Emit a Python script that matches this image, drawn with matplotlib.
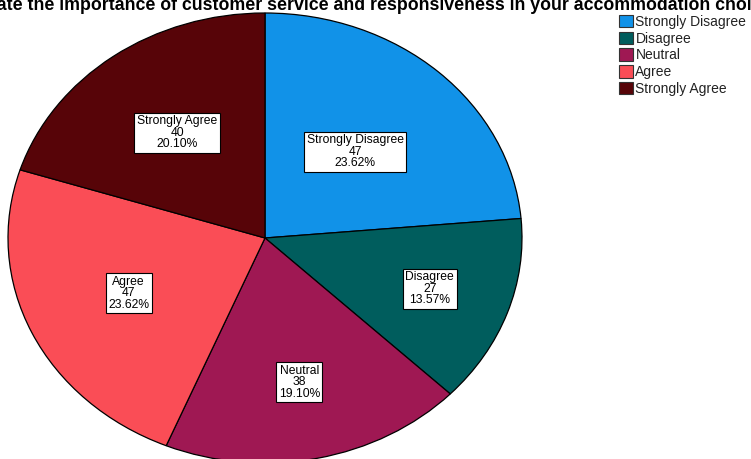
import numpy as np
import matplotlib.pyplot as plt
from matplotlib.patches import Patch

categories = ["Strongly Disagree", "Disagree", "Neutral", "Agree", "Strongly Agree"]
counts = [47, 27, 38, 47, 40]
percents = [23.62, 13.57, 19.10, 23.62, 20.10]
colors = ["#1192e8", "#005d5d", "#9f1853", "#fa4d56", "#570408"]
title = "Rate the importance of customer service and responsiveness in your accommodation choice"

# how far out along each wedge's middle the value box sits (fraction of radius)
label_dist = [0.52, 0.68, 0.655, 0.585, 0.58]

plt.rcParams['font.family'] = ['Liberation Sans', 'DejaVu Sans']

W, H = 751, 459
fig = plt.figure(figsize=(W / 100, H / 100), dpi=100)

# pie box in pixels: left 8, right 522, top 13, bottom 463 (slightly below the figure)
ax = fig.add_axes([8 / W, (H - 463) / H, 514 / W, 450 / H])

labels = [f"{c}\n{n}\n{p:.2f}%" for c, n, p in zip(categories, counts, percents)]
wedges, texts = ax.pie(counts, colors=colors, startangle=90, counterclock=False,
                       labels=labels, labeldistance=0.6,
                       wedgeprops=dict(edgecolor="black", linewidth=0.9),
                       textprops=dict(fontsize=8.7, ha="center", va="center",
                                      linespacing=0.95, multialignment="center"))
for w, t, d in zip(wedges, texts, label_dist):
    mid = np.deg2rad((w.theta1 + w.theta2) / 2)
    t.set_position((d * np.cos(mid), d * np.sin(mid)))
    t.set_ha("center")
    t.set_bbox(dict(boxstyle="square,pad=0.2", facecolor="white",
                    edgecolor="black", linewidth=0.8))

ax.set_aspect("auto")
ax.set_xlim(-1, 1)
ax.set_ylim(-1, 1)
ax.axis("off")

fig.text(0.503, 1 - 10 / H, title, ha="center", va="baseline",
         fontsize=12.8, fontweight="bold")

handles = [Patch(facecolor=c, edgecolor="#333333", linewidth=0.8) for c in colors]
fig.legend(handles, categories, loc="upper left", bbox_to_anchor=(616 / W, 1 - 12 / H),
           frameon=False, fontsize=10, handlelength=1.0, handleheight=1.0,
           handletextpad=0.2, labelspacing=0.2, borderpad=0.2, borderaxespad=0,
           labelcolor="#222222")

fig.savefig("out.png", dpi=100)
